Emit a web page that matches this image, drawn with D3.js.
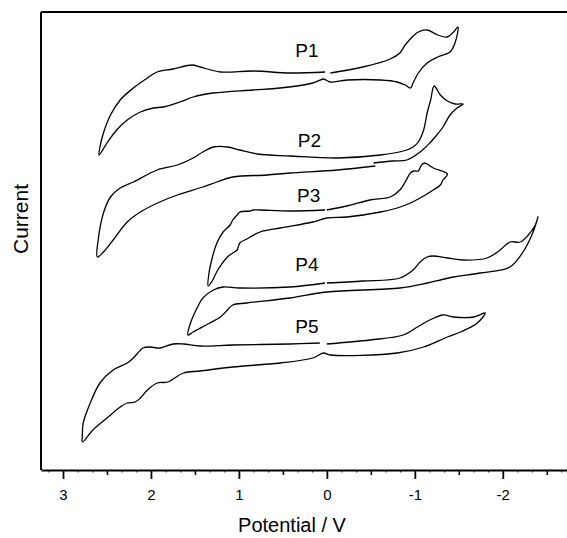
<!DOCTYPE html>
<html>
<head>
<meta charset="utf-8">
<script src="https://cdn.jsdelivr.net/npm/d3@7"></script>
<style>
  body { margin: 0; background: #fff; }
  text { font-family: Arial, "Liberation Sans", sans-serif; }
</style>
</head>
<body>
<div id="container"></div>
<script>
/* CONSTANTS AND GLOBALS */
const width = 567,
  height = 538;
const margin = { top: 12, bottom: 68, left: 41, right: 0 };

/* DATA: [potential (V), current (a.u.)] */
const p1 = [[-0.04,397],[-0.41,403],[-0.72,411],[-0.83,417],[-0.89,425],[-0.97,433],[-1.04,438],[-1.14,440],[-1.26,435],[-1.37,433],[-1.44,438],[-1.49,443],
  [-1.46,428],[-1.40,418],[-1.26,413],[-1.14,407],[-1.04,397],[-0.98,387],[-0.95,382],[-0.89,385],[-0.80,388],[-0.61,390],[-0.23,390],[-0.04,388],[0.01,390],[0.04,391],
  [0.16,387],[0.53,382],[0.84,380],[1.29,377],[1.52,373],[1.67,368],[1.86,363],[1.97,362],[2.12,358],[2.27,350],[2.39,340],[2.50,327],[2.59,315],
  [2.58,323],[2.54,337],[2.46,355],[2.35,370],[2.20,382],[2.04,392],[1.93,398],[1.75,401],[1.53,405],[1.44,403],[1.21,398],[0.84,399],[0.42,397],[0.02,398]];

const p2 = [[-0.53,307],[-0.75,309],[-0.91,310],[-1.06,318],[-1.17,327],[-1.25,335],[-1.32,343],[-1.40,355],[-1.48,362],[-1.55,366],
  [-1.46,366],[-1.37,369],[-1.29,375],[-1.22,384],[-1.18,370],[-1.14,357],[-1.10,340],[-1.04,328],[-0.98,323],[-0.87,319],[-0.61,315],[-0.12,312],
  [0.42,314],[0.79,316],[0.99,320],[1.13,323],[1.29,323],[1.41,318],[1.52,312],[1.70,305],[1.93,300],[2.20,288],[2.35,282],[2.46,273],[2.54,257],[2.60,230],[2.61,213],
  [2.54,218],[2.43,230],[2.27,248],[2.12,258],[1.90,268],[1.70,275],[1.41,283],[1.25,288],[1.07,293],[0.68,295],[0.42,297],[-0.12,300],[-0.55,304]];

const p3 = [[0.00,260],[-0.23,264],[-0.49,270],[-0.72,273],[-0.83,280],[-0.89,288],[-0.95,297],[-0.99,299],[-1.04,299],[-1.07,304],[-1.11,307],[-1.21,302],[-1.37,296],
  [-1.32,290],[-1.29,285],[-1.21,280],[-1.06,272],[-0.95,267],[-0.80,262],[-0.61,258],[-0.23,253],[0.00,252],
  [0.16,248],[0.53,242],[0.76,238],[0.91,231],[0.99,227],[1.02,220],[1.07,217],[1.13,213],[1.24,200],[1.31,188],[1.35,184],
  [1.34,197],[1.31,210],[1.25,227],[1.18,238],[1.10,245],[1.07,250],[1.02,255],[0.99,258],[0.87,259],[0.84,260],[0.76,260],[0.42,259],[0.02,260]];

const p4 = [[0.00,187],[-0.41,189],[-0.83,192],[-0.98,200],[-1.06,208],[-1.14,213],[-1.21,214],[-1.37,212],[-1.55,210],[-1.82,212],[-1.97,220],[-2.08,228],[-2.20,228],[-2.29,235],[-2.37,245],[-2.40,253],
  [-2.34,237],[-2.23,218],[-2.08,203],[-1.74,197],[-1.44,193],[-1.29,190],[-1.14,187],[-0.83,182],[0.00,178],
  [0.42,172],[0.91,167],[1.07,165],[1.13,160],[1.21,153],[1.33,147],[1.52,138],[1.58,135],
  [1.55,147],[1.47,163],[1.41,172],[1.29,180],[1.18,183],[0.99,182],[0.42,183],[0.02,187]];

const p5 = [[0.00,126],[-0.49,130],[-0.87,135],[-1.03,143],[-1.17,150],[-1.32,155],[-1.44,153],[-1.67,153],[-1.80,157],
  [-1.71,147],[-1.52,138],[-1.37,133],[-1.10,123],[-0.80,117],[-0.04,115],[0.04,117],
  [0.16,112],[0.53,107],[1.07,103],[1.44,99],[1.63,97],[1.81,88],[1.93,87],[2.04,80],[2.12,72],[2.18,68],[2.27,67],[2.35,63],[2.50,52],[2.66,40],[2.78,28],
  [2.78,34],[2.77,47],[2.69,67],[2.58,87],[2.43,100],[2.27,107],[2.20,112],[2.09,122],[2.01,123],[1.90,122],[1.75,126],[1.63,126],[1.44,124],[1.07,125],[0.42,126],[0.08,127]];

const curves = [p1, p2, p3, p4, p5];
const names = ["P1", "P2", "P3", "P4", "P5"];
// label anchor points [potential, current]
const labelPos = [[0.36,413],[0.33,323],[0.34,268],[0.36,199],[0.36,137]];

const majorTicks = [3, 2, 1, 0, -1, -2];
const midTicks = [2.5, 1.5, 0.5, -0.5, -1.5, -2.5];

/* SCALES */
const xScale = d3.scaleLinear()
  .domain([3.25, -2.73])
  .range([margin.left, width - margin.right]);

const yScale = d3.scaleLinear()
  .domain([0, 458])
  .range([height - margin.bottom, margin.top]);

/* HTML ELEMENTS */
const svg = d3.select("#container")
  .append("svg")
  .attr("width", width)
  .attr("height", height)
  .style("display", "block");

// minor ticks every 1/6 V
const minorTicks = d3.range(-16, 20).map(i => i / 6)
  .filter(v => Math.abs(v * 2 - Math.round(v * 2)) > 1e-6);

const axisY = height - margin.bottom;

svg.append("g")
  .attr("transform", `translate(0,${axisY})`)
  .call(d3.axisBottom(xScale).tickValues(minorTicks).tickSize(2.5).tickSizeOuter(0).tickFormat(""))
  .call(g => g.select(".domain").remove())
  .call(g => g.selectAll("line").attr("stroke-width", 1));

svg.append("g")
  .attr("transform", `translate(0,${axisY})`)
  .call(d3.axisBottom(xScale).tickValues(midTicks).tickSize(5).tickSizeOuter(0).tickFormat(""))
  .call(g => g.select(".domain").remove())
  .call(g => g.selectAll("line").attr("stroke-width", 1.6));

const xAxis = svg.append("g")
  .attr("transform", `translate(0,${axisY})`)
  .attr("font-size", 15)
  .attr("font-family", 'Arial, "Liberation Sans", sans-serif')
  .call(d3.axisBottom(xScale).tickValues(majorTicks).tickSize(9).tickSizeOuter(0).tickPadding(10).tickFormat(d => String(d)));

xAxis.attr("font-size", 15);
xAxis.select(".domain").attr("stroke-width", 2);
xAxis.selectAll("line").attr("stroke-width", 1.8);
xAxis.selectAll("text")
  .attr("font-size", 15)
  .style("font-size", "15px")
  .attr("fill", "#000");

// left and top frame lines
svg.append("line")
  .attr("x1", margin.left).attr("x2", margin.left)
  .attr("y1", margin.top).attr("y2", axisY)
  .attr("stroke", "#000").attr("stroke-width", 2);

svg.append("line")
  .attr("x1", margin.left).attr("x2", width)
  .attr("y1", margin.top).attr("y2", margin.top)
  .attr("stroke", "#000").attr("stroke-width", 2);

const line = d3.line()
  .x(d => xScale(d[0]))
  .y(d => yScale(d[1]))
  .curve(d3.curveCatmullRom.alpha(0.5));

svg.selectAll("path.cv")
  .data(curves)
  .join("path")
  .attr("class", "cv")
  .attr("d", line)
  .attr("fill", "none")
  .attr("stroke", "#000")
  .attr("stroke-width", 1.3)
  .attr("stroke-linejoin", "round");

svg.selectAll("text.lab")
  .data(names)
  .join("text")
  .attr("class", "lab")
  .attr("x", (d, i) => xScale(labelPos[i][0]))
  .attr("y", (d, i) => yScale(labelPos[i][1]))
  .style("font-size", "19px")
  .text(d => d);

svg.append("text")
  .attr("x", 292)
  .attr("y", 532)
  .style("text-anchor", "middle")
  .style("font-size", "20px")
  .text("Potential / V");

svg.append("text")
  .attr("transform", `translate(28,219) rotate(-90)`)
  .style("text-anchor", "middle")
  .style("font-size", "21px")
  .text("Current");
</script>
</body>
</html>
